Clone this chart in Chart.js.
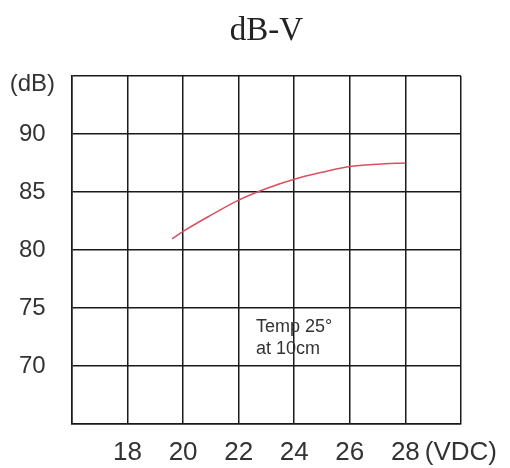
<!DOCTYPE html>
<html>
<head>
<meta charset="utf-8">
<script src="https://cdn.jsdelivr.net/npm/chart.js@4/dist/chart.umd.min.js"></script>
<style>
  html, body { margin: 0; padding: 0; background: #ffffff; }
  #wrap { width: 510px; height: 468px; }
</style>
</head>
<body>
<div id="wrap"><canvas id="c" width="510" height="468"></canvas></div>
<script>
// ---- data ----
const chartTitle = 'dB-V';
const voltages    = [19.6, 20, 21, 22, 23, 24, 25, 26, 27, 28];
const soundLevels = [80.95, 81.6, 83.0, 84.3, 85.3, 86.1, 86.7, 87.2, 87.4, 87.5];

const xTicks      = [16, 18, 20, 22, 24, 26, 28, 30];
const xTickLabels = ['', '18', '20', '22', '24', '26', '28', '(VDC)'];
const yTicks      = [65, 70, 75, 80, 85, 90, 95];
const yTickLabels = ['', '70', '75', '80', '85', '90', ['', '(dB)']];

const noteLines = ['Temp 25°', 'at 10cm'];
const notePos   = [22.62, 72.9]; // x (V), y (dB) of first line baseline

// ---- build chart ----
const points = voltages.map((v, i) => ({ x: v, y: soundLevels[i] }));

const noteplugin = {
  id: 'note',
  afterDatasetsDraw(chart) {
    const { ctx, scales } = chart;
    const x = scales.x.getPixelForValue(notePos[0]);
    const y = scales.y.getPixelForValue(notePos[1]);
    ctx.save();
    ctx.font = '18px "Liberation Sans", Arial, sans-serif';
    ctx.fillStyle = '#333333';
    ctx.textAlign = 'left';
    ctx.textBaseline = 'alphabetic';
    noteLines.forEach((t, i) => ctx.fillText(t, x, y + i * 22));
    ctx.restore();
  }
};

const gridColor = '#1a1a1a';

new Chart(document.getElementById('c'), {
  type: 'line',
  data: {
    datasets: [{
      data: points,
      borderColor: '#d9505f',
      borderWidth: 1.5,
      pointRadius: 0,
      fill: false,
      cubicInterpolationMode: 'monotone'
    }]
  },
  options: {
    responsive: false,
    animation: false,
    devicePixelRatio: 1,
    layout: { padding: { left: 0, right: 49, top: 0, bottom: 0 } },
    plugins: {
      legend: { display: false },
      tooltip: { enabled: false },
      title: {
        display: true,
        text: chartTitle,
        fullSize: false,
        color: '#222222',
        font: { family: '"Liberation Serif", "Times New Roman", serif', size: 33, weight: 'normal' },
        padding: { top: 12, bottom: 24.4 }
      }
    },
    scales: {
      x: {
        type: 'linear',
        min: xTicks[0],
        max: xTicks[xTicks.length - 1],
        afterBuildTicks(scale) { scale.ticks = xTicks.map(v => ({ value: v })); },
        afterFit(scale) { scale.height = 44; },
        ticks: {
          autoSkip: false,
          maxRotation: 0,
          padding: 13,
          color: '#333333',
          font: { family: '"Liberation Sans", Arial, sans-serif', size: 26 },
          callback: (v) => { const i = xTicks.indexOf(v); return i >= 0 ? xTickLabels[i] : ''; }
        },
        grid: { color: gridColor, lineWidth: 1.5, drawTicks: false },
        border: { display: true, color: gridColor, width: 1.5 }
      },
      y: {
        type: 'linear',
        min: yTicks[0],
        max: yTicks[yTicks.length - 1],
        afterBuildTicks(scale) { scale.ticks = yTicks.map(v => ({ value: v })); },
        afterFit(scale) { scale.width = 72; },
        ticks: {
          autoSkip: false,
          crossAlign: 'center',
          padding: 17,
          color: '#333333',
          font: { family: '"Liberation Sans", Arial, sans-serif', size: 24, lineHeight: 0.7 },
          callback: (v) => { const i = yTicks.indexOf(v); return i >= 0 ? yTickLabels[i] : ''; }
        },
        grid: { color: gridColor, lineWidth: 1.5, drawTicks: false },
        border: { display: true, color: gridColor, width: 1.5 }
      }
    }
  },
  plugins: [noteplugin]
});
</script>
</body>
</html>
